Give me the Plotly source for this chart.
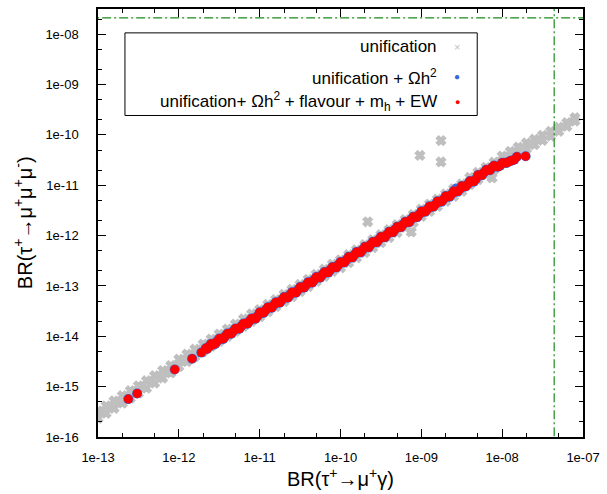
import plotly.graph_objects as go

FONT = "Liberation Sans, Arial, Helvetica, sans-serif"

# ---------------- data ----------------
# experimental upper limits
limit_tau_mugamma = 4.4e-8   # BR(tau -> mu gamma)
limit_tau_3mu = 2.1e-8       # BR(tau -> 3 mu)

# "unification" band (grey crosses): x values with upper / lower edge of the band
gray_x = [7.94e-14,
          1.0e-13, 1.26e-13, 1.58e-13, 2.0e-13, 2.51e-13, 3.16e-13, 3.98e-13, 5.01e-13, 6.31e-13, 7.94e-13,
          1.0e-12, 1.26e-12, 1.58e-12, 2.0e-12, 2.51e-12, 3.16e-12, 3.98e-12, 5.01e-12, 6.31e-12, 7.94e-12,
          1.0e-11, 1.26e-11, 1.58e-11, 2.0e-11, 2.51e-11, 3.16e-11, 3.98e-11, 5.01e-11, 6.31e-11, 7.94e-11,
          1.0e-10, 1.26e-10, 1.58e-10, 2.0e-10, 2.51e-10, 3.16e-10, 3.98e-10, 5.01e-10, 6.31e-10, 7.94e-10,
          1.0e-9, 1.26e-9, 1.58e-9, 2.0e-9, 2.51e-9, 3.16e-9, 3.98e-9, 5.01e-9, 6.31e-9, 7.94e-9,
          1.0e-8, 1.26e-8, 1.58e-8, 2.0e-8, 2.51e-8, 3.16e-8, 3.98e-8, 5.01e-8, 6.31e-8, 7.94e-8]
gray_y_hi = [2.62e-16,
             3.3e-16, 4.16e-16, 5.21e-16, 6.6e-16, 8.28e-16, 1.04e-15, 1.31e-15, 1.65e-15, 2.08e-15, 2.62e-15,
             3.5e-15, 4.41e-15, 5.53e-15, 7.0e-15, 8.79e-15, 1.106e-14, 1.39e-14, 1.75e-14, 2.21e-14, 2.78e-14,
             3.4e-14, 4.28e-14, 5.37e-14, 6.8e-14, 8.53e-14, 1.07e-13, 1.35e-13, 1.7e-13, 2.15e-13, 2.7e-13,
             3.3e-13, 4.16e-13, 5.21e-13, 6.6e-13, 8.28e-13, 1.04e-12, 1.31e-12, 1.65e-12, 2.08e-12, 2.62e-12,
             3.35e-12, 4.22e-12, 5.29e-12, 6.7e-12, 8.41e-12, 1.06e-11, 1.43e-11, 1.8e-11, 2.27e-11, 2.86e-11,
             3.8e-11, 4.7e-11, 5.7e-11, 6.9e-11, 8.2e-11, 9.8e-11, 1.17e-10, 1.42e-10, 1.75e-10, 2.2e-10]
gray_y_lo = [1.87e-16,
             2.35e-16, 2.96e-16, 3.71e-16, 4.7e-16, 5.9e-16, 7.43e-16, 9.35e-16, 1.18e-15, 1.48e-15, 1.87e-15,
             2.5e-15, 3.15e-15, 3.95e-15, 5.0e-15, 6.28e-15, 7.9e-15, 9.95e-15, 1.25e-14, 1.58e-14, 1.99e-14,
             2.45e-14, 3.09e-14, 3.87e-14, 4.9e-14, 6.15e-14, 7.74e-14, 9.75e-14, 1.23e-13, 1.55e-13, 1.95e-13,
             2.3e-13, 2.9e-13, 3.63e-13, 4.6e-13, 5.77e-13, 7.27e-13, 9.15e-13, 1.15e-12, 1.45e-12, 1.83e-12,
             2.4e-12, 3.02e-12, 3.79e-12, 4.8e-12, 6.02e-12, 7.58e-12, 1.03e-11, 1.3e-11, 1.64e-11, 2.06e-11,
             2.8e-11, 3.5e-11, 4.3e-11, 5.3e-11, 6.4e-11, 7.8e-11, 9.5e-11, 1.18e-10, 1.47e-10, 1.88e-10]
# isolated grey points off the band
gray_out_x = [1.75e-9, 9.6e-10, 1.75e-9, 2.17e-10, 7.5e-10, 7.5e-9]
gray_out_y = [7.7e-11, 3.9e-11, 2.9e-11, 1.88e-12, 1.18e-12, 1.4e-11]

# "unification + Omega h^2 + flavour + m_h + EW" (red): edges of the red band
red_x = [2.37e-13, 3.05e-13, 8.9e-13, 1.46e-12, 1.9e-12, 2.15e-12, 2.24e-12, 2.41e-12, 2.51e-12, 2.71e-12,
         2.82e-12, 3.16e-12, 3.55e-12, 3.98e-12, 4.47e-12, 5.01e-12, 5.62e-12, 6.31e-12, 7.08e-12, 7.94e-12,
         8.91e-12,
         1.0e-11, 1.12e-11, 1.26e-11, 1.41e-11, 1.58e-11, 1.78e-11, 2.0e-11, 2.24e-11, 2.51e-11, 2.82e-11,
         3.16e-11, 3.55e-11, 3.98e-11, 4.47e-11, 5.01e-11, 5.62e-11, 6.31e-11, 7.08e-11, 7.94e-11, 8.91e-11,
         1.0e-10, 1.12e-10, 1.26e-10, 1.41e-10, 1.58e-10, 1.78e-10, 2.0e-10, 2.24e-10, 2.51e-10, 2.82e-10,
         3.16e-10, 3.55e-10, 3.98e-10, 4.47e-10, 5.01e-10, 5.62e-10, 6.31e-10, 7.08e-10, 7.94e-10, 8.91e-10,
         1.0e-9, 1.12e-9, 1.26e-9, 1.41e-9, 1.58e-9, 1.78e-9, 2.0e-9, 2.24e-9, 2.51e-9, 2.82e-9,
         3.16e-9, 3.55e-9, 3.98e-9, 4.47e-9, 5.01e-9, 5.62e-9, 6.31e-9, 7.08e-9, 7.94e-9, 8.91e-9,
         1.0e-8, 1.12e-8, 1.26e-8, 1.41e-8, 1.52e-8, 1.95e-8]
red_y = [5.66e-16, 7.3e-16, 2.19e-15, 3.6e-15, 4.74e-15, 5.77e-15, 5.6e-15, 6.3e-15, 7.15e-15, 6.9e-15,
         7.05e-15, 9.0e-15, 8.88e-15, 1.13e-14, 1.12e-14, 1.43e-14, 1.41e-14, 1.8e-14, 1.77e-14, 2.26e-14,
         2.23e-14,
         3.0e-14, 2.91e-14, 3.78e-14, 3.67e-14, 4.74e-14, 4.63e-14, 6.0e-14, 5.82e-14, 7.53e-14, 7.33e-14,
         9.48e-14, 9.23e-14, 1.19e-13, 1.16e-13, 1.5e-13, 1.46e-13, 1.89e-13, 1.84e-13, 2.38e-13, 2.32e-13,
         3.0e-13, 2.91e-13, 3.78e-13, 3.67e-13, 4.74e-13, 4.63e-13, 6.0e-13, 5.82e-13, 7.53e-13, 7.33e-13,
         9.48e-13, 9.23e-13, 1.19e-12, 1.16e-12, 1.5e-12, 1.46e-12, 1.89e-12, 1.84e-12, 2.38e-12, 2.32e-12,
         3.05e-12, 2.97e-12, 3.84e-12, 3.74e-12, 4.82e-12, 4.72e-12, 6.1e-12, 5.94e-12, 7.66e-12, 7.47e-12,
         9.64e-12, 9.41e-12, 1.21e-11, 1.18e-11, 1.6e-11, 1.57e-11, 2.02e-11, 1.98e-11, 2.46e-11, 2.32e-11,
         2.8e-11, 2.75e-11, 3.05e-11, 3.2e-11, 3.67e-11, 3.76e-11]
# red points along the middle of the red band
red_mid_x = [2.37e-12, 2.66e-12, 2.99e-12, 3.35e-12, 3.76e-12, 4.22e-12, 4.73e-12, 5.31e-12, 5.96e-12,
             6.68e-12, 7.5e-12, 8.41e-12, 9.44e-12,
             1.06e-11, 1.19e-11, 1.33e-11, 1.5e-11, 1.68e-11, 1.88e-11, 2.11e-11, 2.37e-11, 2.66e-11, 2.99e-11,
             3.35e-11, 3.76e-11, 4.22e-11, 4.73e-11, 5.31e-11, 5.96e-11, 6.68e-11, 7.5e-11, 8.41e-11, 9.44e-11,
             1.06e-10, 1.19e-10, 1.33e-10, 1.5e-10, 1.68e-10, 1.88e-10, 2.11e-10, 2.37e-10, 2.66e-10, 2.99e-10,
             3.35e-10, 3.76e-10, 4.22e-10, 4.73e-10, 5.31e-10, 5.96e-10, 6.68e-10, 7.5e-10, 8.41e-10, 9.44e-10,
             1.06e-9, 1.19e-9, 1.33e-9, 1.5e-9, 1.68e-9, 1.88e-9, 2.11e-9, 2.37e-9, 2.66e-9, 2.99e-9,
             3.35e-9, 3.76e-9, 4.22e-9, 4.73e-9, 5.31e-9, 5.96e-9, 6.68e-9, 7.5e-9, 8.41e-9, 9.44e-9,
             1.06e-8, 1.19e-8, 1.33e-8]
red_mid_y = [6.35e-15, 7.13e-15, 8.01e-15, 8.98e-15, 1.01e-14, 1.13e-14, 1.27e-14, 1.42e-14, 1.6e-14,
             1.79e-14, 2.01e-14, 2.25e-14, 2.53e-14,
             2.97e-14, 3.33e-14, 3.72e-14, 4.2e-14, 4.7e-14, 5.26e-14, 5.91e-14, 6.64e-14, 7.45e-14, 8.37e-14,
             9.38e-14, 1.05e-13, 1.18e-13, 1.32e-13, 1.49e-13, 1.67e-13, 1.87e-13, 2.1e-13, 2.35e-13, 2.64e-13,
             2.97e-13, 3.33e-13, 3.72e-13, 4.2e-13, 4.7e-13, 5.26e-13, 5.91e-13, 6.64e-13, 7.45e-13, 8.37e-13,
             9.38e-13, 1.05e-12, 1.18e-12, 1.32e-12, 1.49e-12, 1.67e-12, 1.87e-12, 2.1e-12, 2.35e-12, 2.64e-12,
             2.97e-12, 3.33e-12, 3.72e-12, 4.2e-12, 4.7e-12, 5.26e-12, 5.91e-12, 6.64e-12, 7.45e-12, 8.37e-12,
             9.38e-12, 1.05e-11, 1.18e-11, 1.32e-11, 1.59e-11, 1.79e-11, 2.0e-11, 2.25e-11, 2.35e-11, 2.45e-11,
             2.8e-11, 2.9e-11, 3.1e-11]

# "unification + Omega h^2" (blue) – superset of the red points plus a visible extra one
blue_extra_x = [2.7e-9]
blue_extra_y = [8.6e-12]

# ticks
x_tickvals = [1e-13, 1e-12, 1e-11, 1e-10, 1e-9, 1e-8, 1e-7]
x_ticktext = ["1e-13", "1e-12", "1e-11", "1e-10", "1e-09", "1e-08", "1e-07"]
y_tickvals = [1e-16, 1e-15, 1e-14, 1e-13, 1e-12, 1e-11, 1e-10, 1e-9, 1e-8]
y_ticktext = ["1e-16", "1e-15", "1e-14", "1e-13", "1e-12", "1e-11", "1e-10", "1e-09", "1e-08"]
minor_mantissas = [2, 5]

legend_labels = ["unification",
                 "unification + \u03a9h<sup>2</sup>",
                 "unification+ \u03a9h<sup>2</sup> + flavour + m<sub>h</sub> + EW"]

x_title = "BR(\u03c4<sup>+</sup>\u2192\u03bc<sup>+</sup>\u03b3)"
y_title = "BR(\u03c4<sup>+</sup>\u2192\u03bc<sup>+</sup>\u03bc<sup>+</sup>\u03bc<sup>-</sup>)"

GRAY = "#bfbfbf"
BLUE = "#3a66d8"
RED = "#ff0000"
GREEN = "#1a8c1a"

all_red_x = red_x + red_mid_x
all_red_y = red_y + red_mid_y
blue_x = all_red_x + blue_extra_x
blue_y = all_red_y + blue_extra_y

x_minor = [m * v for v in x_tickvals[:-1] for m in minor_mantissas]
y_minor = [m * v for v in ([1e-17] + y_tickvals) for m in minor_mantissas]

fig = go.Figure()
fig.add_trace(go.Scatter(x=gray_x + gray_x + gray_out_x, y=gray_y_hi + gray_y_lo + gray_out_y,
                         mode="markers",
                         marker=dict(symbol="x", size=8, color=GRAY, line=dict(width=1.6, color=GRAY)),
                         hoverinfo="skip"))
fig.add_trace(go.Scatter(x=blue_x, y=blue_y, mode="markers",
                         marker=dict(symbol="circle", size=10, color=BLUE, line=dict(width=0)),
                         hoverinfo="skip"))
fig.add_trace(go.Scatter(x=all_red_x, y=all_red_y, mode="markers",
                         marker=dict(symbol="circle", size=9, color=RED, line=dict(width=0)),
                         hoverinfo="skip"))
# experimental limits
fig.add_trace(go.Scatter(x=[limit_tau_mugamma, limit_tau_mugamma], y=[1e-17, 1e-7], mode="lines",
                         line=dict(color=GREEN, width=1.2, dash="9px,3px,2px,3px"), hoverinfo="skip"))
fig.add_trace(go.Scatter(x=[1e-14, 1e-6], y=[limit_tau_3mu, limit_tau_3mu], mode="lines",
                         line=dict(color=GREEN, width=1.2, dash="9px,3px,2px,3px"), hoverinfo="skip"))

axis_common = dict(type="log", showgrid=False, zeroline=False, showline=True, linecolor="black",
                   linewidth=1.5, mirror="allticks", ticks="inside", ticklen=8, tickwidth=1,
                   tickcolor="black", tickfont=dict(family=FONT, size=13, color="black"))

fig.update_layout(
    width=607, height=494,
    margin=dict(l=98, r=23, t=7, b=57),
    paper_bgcolor="white", plot_bgcolor="white",
    showlegend=False,
    font=dict(family=FONT, color="black"),
    xaxis=dict(range=[-13, -7], tickmode="array", tickvals=x_tickvals, ticktext=x_ticktext,
               ticklabelstandoff=8,
               minor=dict(tickvals=x_minor, ticks="inside", ticklen=4, tickcolor="black", showgrid=False),
               **axis_common),
    yaxis=dict(range=[-16, -7.5], tickmode="array", tickvals=y_tickvals, ticktext=y_ticktext,
               ticklabelstandoff=15,
               minor=dict(tickvals=y_minor, ticks="inside", ticklen=4, tickcolor="black", showgrid=False),
               **axis_common),
)

# legend box (drawn by hand: text right-aligned, symbol on the right)
fig.add_shape(type="rect", xref="paper", yref="paper", x0=0.0556, x1=0.7819, y0=0.7512, y1=0.9442,
              line=dict(color="black", width=1), fillcolor="white", layer="above")
leg_rows = [0.9116, 0.8419, 0.7837]
leg_glyphs = [("\u00d7", GRAY, 11), ("\u25cf", BLUE, 10), ("\u25cf", RED, 9)]
for lab, yy, (g, c, s) in zip(legend_labels, leg_rows, leg_glyphs):
    fig.add_annotation(xref="paper", yref="paper", x=0.7037, y=yy, text=lab, showarrow=False,
                       xanchor="right", yanchor="middle", font=dict(family=FONT, size=17, color="black"))
    fig.add_annotation(xref="paper", yref="paper", x=0.7407, y=yy, text=g, showarrow=False,
                       xanchor="center", yanchor="middle", font=dict(family=FONT, size=s, color=c))

# axis titles
fig.add_annotation(xref="paper", yref="paper", x=0.5, y=-0.0953, text=x_title, showarrow=False,
                   xanchor="center", yanchor="middle", font=dict(family=FONT, size=20, color="black"))
fig.add_annotation(xref="paper", yref="paper", x=-0.1564, y=0.5, text=y_title, showarrow=False,
                   textangle=-90, xanchor="center", yanchor="middle",
                   font=dict(family=FONT, size=20, color="black"))

fig.write_html("out.html", config={"displayModeBar": False},
               post_script="document.body.style.margin='0';document.body.style.padding='0';")
